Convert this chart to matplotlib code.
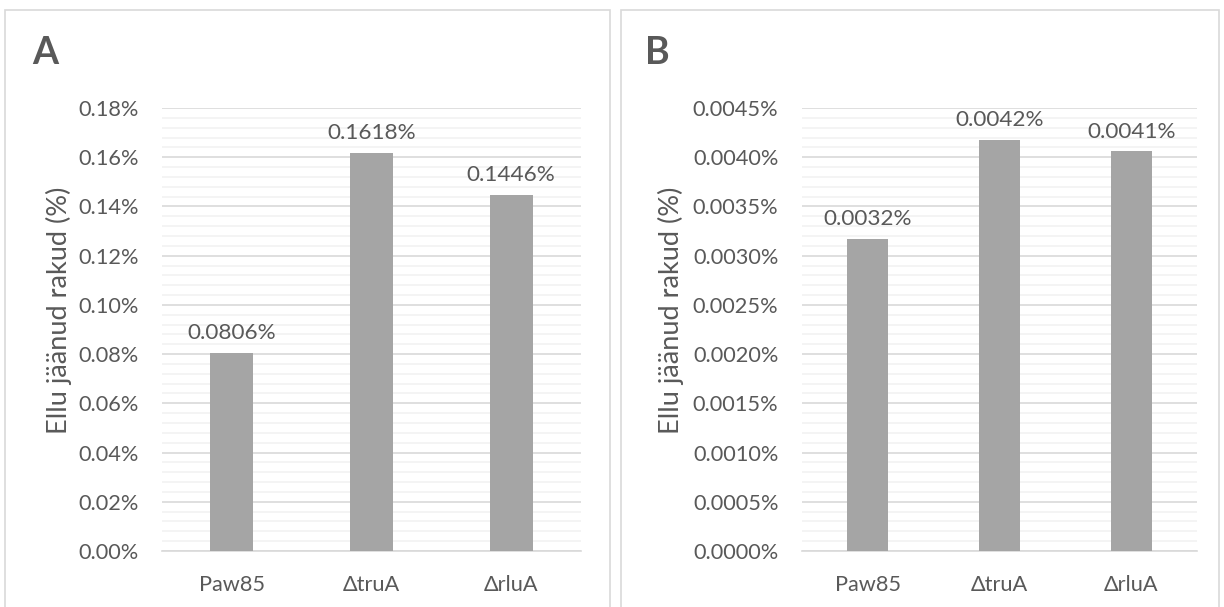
import matplotlib
matplotlib.use("Agg")
import matplotlib.pyplot as plt
from matplotlib.patches import Rectangle
from matplotlib.ticker import MultipleLocator, FuncFormatter

plt.rcParams['font.family'] = ['Lato', 'DejaVu Sans']

categories = ["Paw85", "\u0394truA", "\u0394rluA"]
values_a = [0.0806, 0.1618, 0.1446]   # percent
values_b = [0.00317, 0.00418, 0.00406]  # percent
labels_a = ["0.0806%", "0.1618%", "0.1446%"]
labels_b = ["0.0032%", "0.0042%", "0.0041%"]
ylabel = "Ellu jäänud rakud (%)"

W, H = 1224, 607
fig = plt.figure(figsize=(W / 100, H / 100), dpi=100)
fig.patch.set_facecolor("white")

TXT = "#595959"
BAR = "#a5a5a5"
GRID_MAJ = "#d9d9d9"
GRID_MIN = "#f2f2f2"
FS = 15.7

# panel borders
for x0, x1 in [(5, 610), (621, 1219)]:
    fig.patches.append(Rectangle((x0 / W, -0.05), (x1 - x0) / W, (H - 9.5) / H + 0.05,
                                 transform=fig.transFigure, fill=False,
                                 edgecolor="#d9d9d9", lw=1.2, zorder=0))


def panel(rect, vals, labs, ymax, major, minor, decimals, letter, letter_x, ylab_x):
    ax = fig.add_axes(rect)
    x = range(len(categories))
    ax.bar(x, vals, width=0.31, color=BAR, zorder=3)
    ax.set_xlim(-0.5, len(categories) - 0.5)
    ax.set_ylim(0, ymax)
    ax.yaxis.set_major_locator(MultipleLocator(major))
    ax.yaxis.set_minor_locator(MultipleLocator(minor))
    ax.yaxis.set_major_formatter(FuncFormatter(lambda v, p: f"{v:.{decimals}f}%"))
    ax.grid(which="major", axis="y", color=GRID_MAJ, lw=1.2, zorder=1)
    ax.grid(which="minor", axis="y", color=GRID_MIN, lw=1.2, zorder=0)
    for s in ["left", "right", "top"]:
        ax.spines[s].set_visible(False)
    ax.spines["bottom"].set_color(GRID_MAJ)
    ax.spines["bottom"].set_linewidth(1.2)
    ax.tick_params(axis="both", which="both", length=0, colors=TXT, labelsize=FS)
    ax.tick_params(axis="y", pad=17)
    ax.tick_params(axis="x", pad=17)
    ax.set_xticks(list(x))
    ax.set_xticklabels(categories)
    for xi, v, l in zip(x, vals, labs):
        ax.annotate(l, (xi, v), xytext=(0, 7), textcoords="offset points",
                    ha="center", va="bottom", color=TXT, fontsize=16.2, zorder=4)
    ax.set_ylabel(ylabel, color=TXT, fontsize=19.5)
    ax.yaxis.set_label_coords(ylab_x, 0.544)
    fig.text(letter_x / W, 1 - 53 / H, letter, fontsize=27, fontweight="bold",
             color=TXT, ha="left", va="center")
    return ax


panel([162 / W, (H - 551) / H, 419 / W, 443 / H], values_a, labels_a,
      0.18, 0.02, 0.004, 2, "A", 32, -0.215)
panel([802 / W, (H - 551) / H, 395 / W, 443 / H], values_b, labels_b,
      0.0045, 0.0005, 0.0001, 4, "B", 645, -0.299)

fig.savefig("out.png", dpi=100)
